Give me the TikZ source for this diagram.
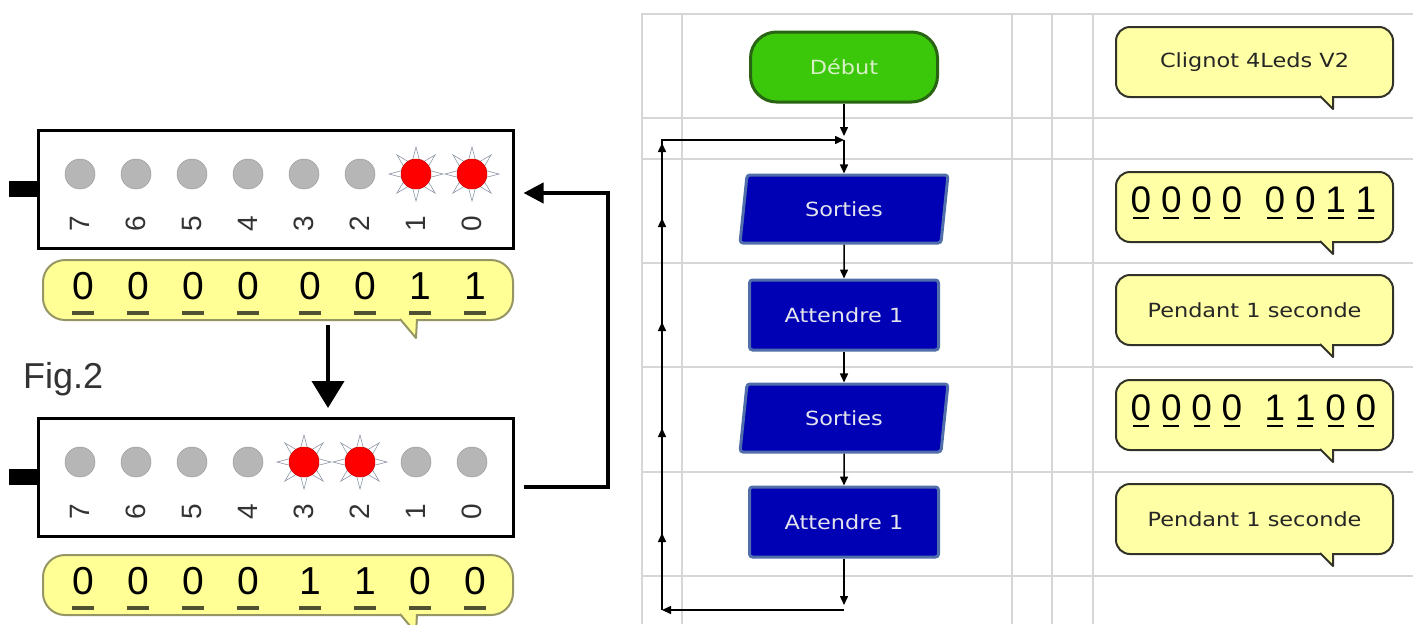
\documentclass[tikz,border=0pt]{standalone}
\usepackage{fontspec}
\setmainfont{Liberation Sans}
\newfontfamily\flowfont{DejaVu Sans}[FakeStretch=1.15]
\usetikzlibrary{arrows.meta,shapes.geometric,calc}
\definecolor{gridgray}{RGB}{214,214,214}
\definecolor{ledgray}{RGB}{182,182,182}
\definecolor{raygray}{RGB}{140,150,165}
\definecolor{bubyellow}{RGB}{255,255,150}
\definecolor{bubedge}{RGB}{150,150,100}
\definecolor{ulgray}{RGB}{80,80,50}
\definecolor{noteyellow}{RGB}{255,255,165}
\definecolor{noteedge}{RGB}{50,50,40}
\definecolor{startgreen}{RGB}{60,200,10}
\definecolor{startedge}{RGB}{40,100,20}
\definecolor{starttext}{RGB}{215,240,200}
\definecolor{boxblue}{RGB}{0,0,180}
\definecolor{boxedge}{RGB}{80,110,170}
\definecolor{boxtext}{RGB}{228,228,238}
\begin{document}
\begin{tikzpicture}[x=1pt,y=-1pt,
  gridline/.style={draw=gridgray,line width=1.2},
  board/.style={draw,line width=3,minimum width=475,minimum height=118,inner sep=0},
  led/.style={circle,fill=ledgray,draw=ledgray!85!black,line width=0.5,minimum size=30,inner sep=0},
  ledon/.style={led,fill=red,draw=red!80!black},
  ledray/.style={star,star points=8,star point ratio=2.4,minimum size=54,inner sep=0,draw=raygray,fill=white,line width=0.6},
  pinlabel/.style={font=\fontsize{28}{28}\selectfont,text=black!80,rotate=90,inner sep=0},
  bubble/.style={rounded corners=22,fill=bubyellow,draw=bubedge,line width=2,minimum width=470,minimum height=60,inner sep=0},
  bigdigit/.style={font=\fontsize{39}{39}\selectfont,inner sep=0},
  bigarrow/.style={line width=4,-{Triangle[length=20pt,width=20pt]}},
  startbox/.style={rounded corners=26,fill=startgreen,draw=startedge,line width=3,minimum width=187,minimum height=70,text=starttext,font=\flowfont\fontsize{19.5}{20}\selectfont},
  iobox/.style={trapezium,trapezium left angle=82,trapezium right angle=98,trapezium stretches=true,minimum width=209,minimum height=68,rounded corners=3,fill=boxblue,draw=boxedge,line width=3,text=boxtext,font=\flowfont\fontsize{19.5}{20}\selectfont},
  waitbox/.style={rounded corners=3,minimum width=189,minimum height=70,fill=boxblue,draw=boxedge,line width=3,text=boxtext,font=\flowfont\fontsize{19.5}{20}\selectfont},
  flowarrow/.style={line width=1.5,-{Triangle[length=9pt,width=8pt]}},
  notebox/.style={rounded corners=14,fill=noteyellow,draw=noteedge,line width=2,minimum width=277,minimum height=70,inner sep=0,text=black!85,font=\flowfont\fontsize{19.5}{20}\selectfont},
  notetail/.style={fill=noteyellow,draw=noteedge,line width=2,line join=round},
  smalldigit/.style={font=\fontsize{37}{37}\selectfont,inner sep=0}]
\fill[white] (0,0) rectangle (1420,624);
\useasboundingbox (0,0) rectangle (1420,624);

% grid of the flowchart editor
\foreach \y in {14,118,159,263,367,472,576}
  \draw[gridline] (641,\y) -- (1413,\y);
\foreach \x in {642,682,1012,1052,1093}
  \draw[gridline] (\x,13) -- (\x,624);

% the two led boards
\node[board] (brd1) at (275.5,189) {};
\node[board] (brd2) at (275.5,477) {};
\fill ([yshift=8pt]brd1.west) rectangle ++(-28,16);
\fill ([yshift=8pt]brd2.west) rectangle ++(-28,16);
\foreach \b in {0,...,7} {
  \node[led] (ledA\b) at (472-56*\b,174) {};
  \node[pinlabel] (numA\b) at (472-56*\b,224) {\b};
  \node[led] (ledB\b) at (472-56*\b,462) {};
  \node[pinlabel] (numB\b) at (472-56*\b,512) {\b};
}
\foreach \b in {0,1} {
  \node[ledray] (rayA\b) at (ledA\b) {};
  \node[ledon] (onA\b) at (ledA\b) {};
}
\foreach \b in {2,3} {
  \node[ledray] (rayB\b) at (ledB\b) {};
  \node[ledon] (onB\b) at (ledB\b) {};
}

% yellow bubbles under the boards
\node[bubble] (bub1) at (278,290) {};
\node[bubble] (bub2) at (278,585) {};
\draw[fill=bubyellow,draw=bubedge,line width=2,line join=round] ([shift={(122,-2)}]bub1.south) -- ++(16,19) -- ++(1,-19);
\draw[fill=bubyellow,draw=bubedge,line width=2,line join=round] ([shift={(122,-2)}]bub2.south) -- ++(16,19) -- ++(1,-19);
\foreach \d [count=\i] in {0,0,0,0,0,0,1,1} {
  \node[bigdigit] (bAd\i) at ($(bub1)+({-195+55*(\i-1)+7*(\i>4)},-4)$) {\d};
  \draw[ulgray,line width=4] ($(bAd\i)+(-11,27)$) -- ++(22,0);
}
\foreach \d [count=\i] in {0,0,0,0,1,1,0,0} {
  \node[bigdigit] (bBd\i) at ($(bub2)+({-195+55*(\i-1)+7*(\i>4)},-4)$) {\d};
  \draw[ulgray,line width=4] ($(bBd\i)+(-11,27)$) -- ++(22,0);
}

\node[anchor=base west,font=\fontsize{36}{36}\selectfont,text=black!80,inner sep=0] (figlbl) at (23,388) {Fig.2};

\draw[line width=4,-{Triangle[length=27pt,width=32pt]}] ([shift={(50,4)}]bub1.south) -- ([shift={(52.5,-8.5)}]brd2.north);
\draw[bigarrow] ([shift={(9,10)}]brd2.east) -- ++(84,0) |- ([shift={(9,4)}]brd1.east);

% flowchart
\node[startbox] (start) at (844,67) {Début};
\node[iobox] (io1) at (844,209) {Sorties};
\node[waitbox] (wait1) at (844,315) {Attendre 1};
\node[iobox] (io2) at (844,418) {Sorties};
\node[waitbox] (wait2) at (844,522) {Attendre 1};
\coordinate (jn) at (844,140);
\coordinate (lpB) at (844,610);
\coordinate (lpL) at (662,610);
\coordinate (lpT) at (662,140);
\draw[flowarrow] (start.south) -- ([yshift=4pt]jn);
\draw[flowarrow] (jn) -- (io1);
\draw[flowarrow] (io1) -- (wait1);
\draw[flowarrow] (wait1) -- (io2);
\draw[flowarrow] (io2) -- (wait2);
\draw[flowarrow] (wait2) -- ([yshift=5pt]lpB);
\draw[flowarrow] (lpB) -- (lpL);
\draw[flowarrow] (lpL) -- (lpT) -- (jn);
\foreach \y in {533,428,322,218,143}
  \draw[flowarrow] (662,\y+12) -- (662,\y);

% comments of the flowchart
\node[notebox] (n1) at (1254.5,62) {Clignot 4Leds V2};
\node[notebox] (n2) at (1254.5,207) {};
\node[notebox] (n3) at (1254.5,310) {Pendant 1 seconde};
\node[notebox] (n4) at (1254.5,415) {};
\node[notebox] (n5) at (1254.5,519) {Pendant 1 seconde};
\foreach \n in {n1,n2,n3,n4,n5}
  \draw[notetail] ([shift={(65.5,-2)}]\n.south) -- ++(13,13) -- ++(0,-13);
\foreach \d [count=\i] in {0,0,0,0,0,0,1,1} {
  \node[smalldigit] (nAd\i) at ($(n2)+({-113.5+30.3*(\i-1)+12.8*(\i>4)},-7)$) {\d};
  \draw[line width=2] ($(nAd\i)+(-8,18)$) -- ++(16,0);
}
\foreach \d [count=\i] in {0,0,0,0,1,1,0,0} {
  \node[smalldigit] (nBd\i) at ($(n4)+({-113.5+30.3*(\i-1)+12.8*(\i>4)},-7)$) {\d};
  \draw[line width=2] ($(nBd\i)+(-8,18)$) -- ++(16,0);
}
\end{tikzpicture}
\end{document}
